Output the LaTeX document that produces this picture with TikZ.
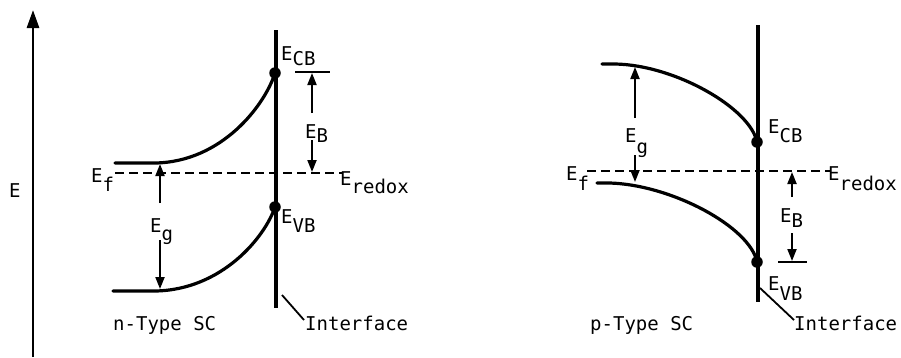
\documentclass[tikz,border=0pt]{standalone}
\usepackage{fontspec}
\setmainfont{DejaVu Sans Mono}
\usetikzlibrary{arrows.meta}
\newcommand{\Elab}[2]{E\raisebox{#1}{#2}}
\begin{document}
\begin{tikzpicture}[x=1pt,y=-1pt,
  band/.style={line width=3.2pt, line cap=round},
  iface/.style={line width=3.8pt},
  fermi/.style={line width=1.8pt, dash pattern=on 9pt off 5pt},
  darr/.style={line width=2pt, -{Triangle[length=12pt,width=9pt]}},
  tick/.style={line width=2pt},
  pointer/.style={line width=1.8pt},
  lab/.style={inner sep=0pt, anchor=base west, font=\fontsize{19}{22}\selectfont},
  dot/.style={circle, fill, inner sep=0pt, minimum size=11.5pt}]
\useasboundingbox (0,0) rectangle (901,357);

% energy axis
\coordinate (axB) at (33,357);
\coordinate (axT) at (33,10);
\draw[line width=2.8pt, -{Triangle[length=18pt,width=12pt]}] (axB) -- (axT);
\node[lab] (eax) at (9,197) {E};

% ---------------- n-type ----------------
\coordinate (nIt) at (276,30);
\coordinate (nIb) at (276,308);
\draw[iface] (nIt) -- (nIb);
\draw[band] (115,163) -- (155,163) .. controls (222,162) and (265,105) .. (275,73);
\draw[band] (113,291) -- (155,291) .. controls (222,290) and (265,237) .. (275,207);
\node[dot] (nCB) at (275,73) {};
\node[dot] (nVB) at (275,207) {};
\coordinate (nFl) at (115,173);
\coordinate (nFr) at (343,173);
\draw[fermi] (nFl) -- (nFr);
% Eg
\coordinate (nG1) at (160,203); \coordinate (nG2) at (160,164);
\coordinate (nG3) at (160,240); \coordinate (nG4) at (160,289);
\draw[darr] (nG1) -- (nG2);
\draw[darr] (nG3) -- (nG4);
% EB
\coordinate (nT1) at (295,72); \coordinate (nT2) at (330,72);
\draw[tick] (nT1) -- (nT2);
\coordinate (nB1) at (312,113); \coordinate (nB2) at (312,73);
\coordinate (nB3) at (312,140); \coordinate (nB4) at (312,172);
\draw[darr] (nB1) -- (nB2);
\draw[darr] (nB3) -- (nB4);
% pointer
\coordinate (nP1) at (282,295); \coordinate (nP2) at (304,320);
\draw[pointer] (nP1) -- (nP2);
% labels
\node[lab] (nECB) at (281,60) {\Elab{-5pt}{CB}};
\node[lab] (nEVB) at (281,223) {\Elab{-9pt}{VB}};
\node[lab] (nEB) at (305,138) {\Elab{-4pt}{B}};
\node[lab] (nEf) at (91,182) {\Elab{-9pt}{f}};
\node[lab] (nEr) at (340,185) {\Elab{-8pt}{redox}};
\node[lab] (nEg) at (150,232) {\Elab{-8pt}{g}};
\node[lab] (nIf) at (305,330) {Interface};
\node[lab] (nTy) at (113,330) {n-Type SC};

% ---------------- p-type ----------------
\coordinate (pIt) at (758,25);
\coordinate (pIb) at (758,302);
\draw[iface] (pIt) -- (pIb);
\draw[band] (602,64) -- (615,64) .. controls (675,65) and (750,108) .. (757,142);
\draw[band] (597,183) -- (610,183) .. controls (672,185) and (750,227) .. (757,262);
\node[dot] (pCB) at (757,142) {};
\node[dot] (pVB) at (757,262) {};
\coordinate (pFl) at (587,171);
\coordinate (pFr) at (830,171);
\draw[fermi] (pFl) -- (pFr);
% Eg
\coordinate (pG1) at (635,118); \coordinate (pG2) at (635,67);
\coordinate (pG3) at (635,155); \coordinate (pG4) at (635,182);
\draw[darr] (pG1) -- (pG2);
\draw[darr] (pG3) -- (pG4);
% EB
\coordinate (pB1) at (792,197); \coordinate (pB2) at (792,172);
\coordinate (pB3) at (792,233); \coordinate (pB4) at (792,261);
\draw[darr] (pB1) -- (pB2);
\draw[darr] (pB3) -- (pB4);
\coordinate (pT1) at (778,262); \coordinate (pT2) at (807,262);
\draw[tick] (pT1) -- (pT2);
% pointer
\coordinate (pP1) at (760,288); \coordinate (pP2) at (794,320);
\draw[pointer] (pP1) -- (pP2);
% labels
\node[lab] (pECB) at (768,133) {\Elab{-9pt}{CB}};
\node[lab] (pEVB) at (768,290) {\Elab{-10pt}{VB}};
\node[lab] (pEB) at (780,222) {\Elab{-5pt}{B}};
\node[lab] (pEf) at (566,180) {\Elab{-10pt}{f}};
\node[lab] (pEr) at (828,180) {\Elab{-10pt}{redox}};
\node[lab] (pEg) at (625,142) {\Elab{-11pt}{g}};
\node[lab] (pIf) at (794,330) {Interface};
\node[lab] (pTy) at (590,330) {p-Type SC};
\end{tikzpicture}
\end{document}
